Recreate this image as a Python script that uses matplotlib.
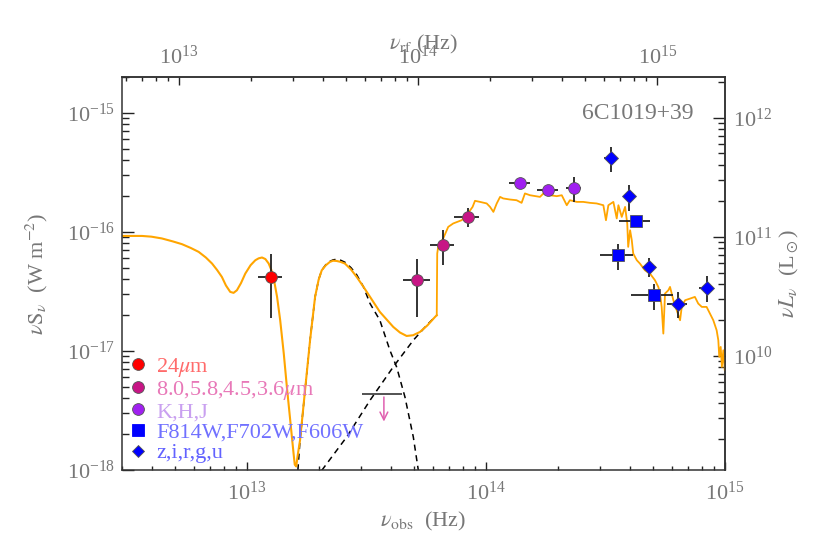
import numpy as np
import matplotlib
matplotlib.use('Agg')
import matplotlib.pyplot as plt
from matplotlib.lines import Line2D

plt.rcParams['font.family'] = ['Liberation Serif', 'DejaVu Serif']
plt.rcParams['mathtext.fontset'] = 'stix'

z = 0.922
lum_fac = 10**27.04   # nuS_nu (W m^-2) -> nuL_nu (Lsun)

# model curves: log10(nu_obs/Hz), log10(nuS_nu / W m^-2)
torus_lognu = [12.477, 12.561, 12.600, 12.644, 12.690, 12.728, 12.765, 12.798, 12.828, 12.854,
               12.875, 12.895, 12.912, 12.930, 12.944, 12.958, 12.975, 12.993, 13.015, 13.035,
               13.049, 13.063, 13.077, 13.091, 13.102, 13.112, 13.126, 13.139, 13.154, 13.167,
               13.181, 13.195, 13.200, 13.206, 13.212, 13.222, 13.243, 13.264, 13.285, 13.300,
               13.313, 13.330, 13.347, 13.360, 13.375, 13.392, 13.410, 13.435, 13.459, 13.487,
               13.515, 13.556, 13.612, 13.640, 13.668, 13.695, 13.724, 13.755, 13.787, 13.794]
torus_logS = [-16.034, -16.034, -16.040, -16.055, -16.080, -16.103, -16.135, -16.168, -16.215, -16.266,
              -16.320, -16.378, -16.450, -16.504, -16.512, -16.490, -16.430, -16.350, -16.280, -16.238,
              -16.222, -16.215, -16.228, -16.266, -16.320, -16.392, -16.546, -16.742, -17.022, -17.303,
              -17.582, -17.862, -17.955, -17.970, -17.880, -17.750, -17.330, -16.910, -16.546, -16.400,
              -16.322, -16.280, -16.252, -16.242, -16.244, -16.252, -16.266, -16.315, -16.378, -16.460,
              -16.546, -16.672, -16.798, -16.845, -16.874, -16.868, -16.840, -16.785, -16.714, -16.700]

stars_lognu = [13.794, 13.796, 13.800, 13.821, 13.842, 13.863, 13.898, 13.919, 13.944, 13.954,
               13.975, 14.003, 14.017, 14.031, 14.045, 14.059, 14.072, 14.100, 14.128, 14.149,
               14.163, 14.184, 14.226, 14.247, 14.268, 14.296, 14.317, 14.338, 14.351, 14.380,
               14.407, 14.435, 14.463, 14.491, 14.502, 14.512, 14.533, 14.547, 14.554, 14.568,
               14.582, 14.591, 14.595, 14.603, 14.610, 14.616, 14.631, 14.644, 14.665, 14.686,
               14.707, 14.721, 14.728, 14.735, 14.742, 14.749, 14.763, 14.770, 14.784, 14.798,
               14.812, 14.819, 14.833, 14.854, 14.874, 14.888, 14.903, 14.923, 14.937, 14.951,
               14.965, 14.972, 14.976, 14.982, 14.987, 14.993, 14.999, 15.005]
stars_logS = [-16.700, -16.182, -16.126, -16.055, -15.958, -15.929, -15.902, -15.860, -15.790, -15.739,
              -15.748, -15.761, -15.790, -15.832, -15.761, -15.706, -15.719, -15.728, -15.734, -15.756,
              -15.677, -15.692, -15.706, -15.664, -15.692, -15.700, -15.692, -15.776, -15.734, -15.748,
              -15.748, -15.756, -15.761, -15.776, -15.902, -15.776, -15.748, -15.887, -15.776, -15.874,
              -15.790, -15.929, -16.126, -15.986, -16.070, -16.182, -16.238, -16.266, -16.322, -16.350,
              -16.406, -16.462, -16.518, -16.630, -16.854, -16.518, -16.490, -16.462, -16.574, -16.658,
              -16.742, -16.630, -16.574, -16.560, -16.546, -16.602, -16.630, -16.630, -16.686, -16.742,
              -16.826, -16.910, -17.050, -16.966, -17.134, -16.994, -17.162, -17.134]

bump_lognu = [13.213, 13.222, 13.243, 13.264, 13.285, 13.300, 13.313, 13.330, 13.347, 13.360,
              13.375, 13.392, 13.410, 13.435, 13.459, 13.487, 13.515, 13.556, 13.598, 13.626,
              13.661, 13.696, 13.717]
bump_logS = [-18.003, -17.750, -17.330, -16.910, -16.546, -16.400, -16.322, -16.275, -16.248, -16.235,
             -16.230, -16.238, -16.255, -16.300, -16.360, -16.460, -16.602, -16.742, -16.994, -17.134,
             -17.387, -17.723, -18.003]

plaw_lognu = [13.313, 13.417, 13.515, 13.612, 13.696, 13.752, 13.787]
plaw_logS = [-18.003, -17.723, -17.414, -17.134, -16.910, -16.784, -16.714]

# photometry: nu_obs (Hz), nuS_nu (W m^-2) and errors
mips_nu, mips_S = [1.256e13], [4.19e-17]
mips_dnu, mips_dS = [0.14e13], [2.3e-17]

irac_nu, irac_S = [5.16e13, 6.59e13, 8.38e13], [3.93e-17, 7.83e-17, 1.345e-16]
irac_dnu, irac_dS = [0.66e13, 0.74e13, 1.0e13], [2.0e-17, 2.6e-17, 2.45e-17]
lim_nu, lim_S, lim_dnu, lim_arrow_S = 3.74e13, 4.33e-18, 0.7e13, 2.42e-18

nir_nu, nir_S = [1.387e14, 1.815e14, 2.33e14], [2.56e-16, 2.23e-16, 2.32e-16]
nir_dnu, nir_dS = [0.135e14, 0.18e14, 0.17e14], [0.1e-16, 0.1e-16, 0.55e-16]

hst_nu, hst_S = [3.56e14, 4.23e14, 5.05e14], [6.37e-17, 1.23e-16, 2.94e-17]
hst_dnu, hst_dS = [0.55e14, 0.62e14, 1.0e14], [1.55e-17, 0.1e-16, 0.72e-17]

sdss_nu = [3.33e14, 3.98e14, 4.82e14, 6.34e14, 8.37e14]
sdss_S = [4.14e-16, 2.0e-16, 5.08e-17, 2.50e-17, 3.41e-17]
sdss_dnu = [0.2e14, 0.2e14, 0.3e14, 0.6e14, 0.55e14]
sdss_dS = [0.98e-16, 0.5e-16, 0.9e-17, 0.6e-17, 0.84e-17]

labels = ['24$\\mu$m', '8.0,5.8,4.5,3.6$\\mu$m', 'K,H,J', 'F814W,F702W,F606W', 'z,i,r,g,u']
label_colors = ['#ff6a6a', '#e878b8', '#c9a0f0', '#7070ff', '#6262ff']

fig = plt.figure(figsize=(8.22, 5.48), dpi=100)
ax = fig.add_axes([0.1484, 0.1423, 0.7336, 0.7172])
ax.set_xscale('log')
ax.set_yscale('log')
ax.set_xlim(3.0e12, 1e15)
ax.set_ylim(1e-18, 2e-15)

orange = '#ffa500'
ax.plot(10**np.array(bump_lognu), 10**np.array(bump_logS), color='k', ls=(0, (4, 3)), lw=1.1, zorder=2)
ax.plot(10**np.array(plaw_lognu), 10**np.array(plaw_logS), color='k', ls=(0, (4, 3)), lw=1.1, zorder=2)
ax.plot(10**np.array(torus_lognu), 10**np.array(torus_logS), color=orange, lw=1.5, zorder=2.5)
ax.plot(10**np.array(stars_lognu), 10**np.array(stars_logS), color=orange, lw=1.3, zorder=2.5)

eb = dict(ls='none', ecolor='#222222', elinewidth=1.3, capsize=0, mec='#555555', mew=0.6, zorder=4)
ax.errorbar(mips_nu, mips_S, xerr=mips_dnu, yerr=mips_dS, marker='o', ms=8.5, mfc='#ff0000', **eb)
ax.errorbar(irac_nu, irac_S, xerr=irac_dnu, yerr=irac_dS, marker='o', ms=8.5, mfc='#c71585', **eb)
ax.errorbar(nir_nu, nir_S, xerr=nir_dnu, yerr=nir_dS, marker='o', ms=8.5, mfc='#a020f0', **eb)
ax.errorbar(hst_nu, hst_S, xerr=hst_dnu, yerr=hst_dS, marker='s', ms=9, mfc='#0000ff', **eb)
ax.errorbar(sdss_nu, sdss_S, xerr=sdss_dnu, yerr=sdss_dS, marker='D', ms=7, mfc='#0000ff', **eb)

# 8 micron upper limit
ax.errorbar([lim_nu], [lim_S], xerr=[lim_dnu], ls='none', ecolor='#444444', elinewidth=1.3, zorder=4)
ax.annotate('', xy=(lim_nu, lim_arrow_S), xytext=(lim_nu, lim_S),
            arrowprops=dict(arrowstyle='->', color='#e060b0', lw=1.1, mutation_scale=14))

ax.text(0.947, 0.906, '6C1019+39', transform=ax.transAxes, ha='right', va='center',
        fontsize=17, color='#777777')

handles = [Line2D([], [], ls='none', marker='o', ms=8.5, mfc='#ff0000', mec='#555555', mew=0.6),
           Line2D([], [], ls='none', marker='o', ms=8.5, mfc='#c71585', mec='#555555', mew=0.6),
           Line2D([], [], ls='none', marker='o', ms=8.5, mfc='#a020f0', mec='#555555', mew=0.6),
           Line2D([], [], ls='none', marker='s', ms=8, mfc='#0000ff', mec='#0000ff', mew=0.6),
           Line2D([], [], ls='none', marker='D', ms=6.5, mfc='#0000ff', mec='#555555', mew=0.6)]
ax.legend(handles, labels, loc='lower left', frameon=False, fontsize=16,
          handlelength=0.8, handletextpad=0.43, borderaxespad=0.3, borderpad=0.0,
          labelspacing=0.0, labelcolor=label_colors)

gray = '#777777'
top = ax.secondary_xaxis('top', functions=(lambda x: x * (1 + z), lambda x: x / (1 + z)))
right = ax.secondary_yaxis('right', functions=(lambda y: y * lum_fac, lambda y: y / lum_fac))

ax.tick_params(axis='x', which='major', direction='in', length=5.5, width=1, color='#222222',
               labelsize=16, labelcolor=gray, pad=8, top=False)
ax.tick_params(axis='x', which='minor', direction='in', length=2.7, width=1, color='#222222', top=False)
ax.tick_params(axis='y', which='major', direction='in', length=8.4, width=1, color='#222222',
               labelsize=16, labelcolor=gray, pad=5, right=False)
ax.tick_params(axis='y', which='minor', direction='in', length=4.8, width=1, color='#222222', right=False)
top.tick_params(which='major', direction='in', length=5.5, width=1, color='#222222',
                labelsize=16, labelcolor=gray, pad=6)
top.tick_params(which='minor', direction='in', length=2.7, width=1, color='#222222')
right.tick_params(which='major', direction='in', length=8.4, width=1, color='#222222',
                  labelsize=16, labelcolor=gray, pad=6)
right.tick_params(which='minor', direction='in', length=4.8, width=1, color='#222222')

for a in (ax, top, right):
    for s in a.spines.values():
        s.set_color('#333333')
        s.set_linewidth(1.1)

ax.set_xlabel('$\\nu_{\\rm obs}$  (Hz)', fontsize=16, color=gray, labelpad=4)
ax.set_ylabel('$\\nu \\mathrm{S}_\\nu$  (W m$^{-2}$)', fontsize=16, color=gray, labelpad=12)
top.set_xlabel('$\\nu_{\\rm rf}$ (Hz)', fontsize=16, color=gray, labelpad=-3)
right.set_ylabel('$\\nu L_\\nu$  (L$_\\odot$)', fontsize=16, color=gray, labelpad=4)

fig.savefig('out.png', dpi=100)
